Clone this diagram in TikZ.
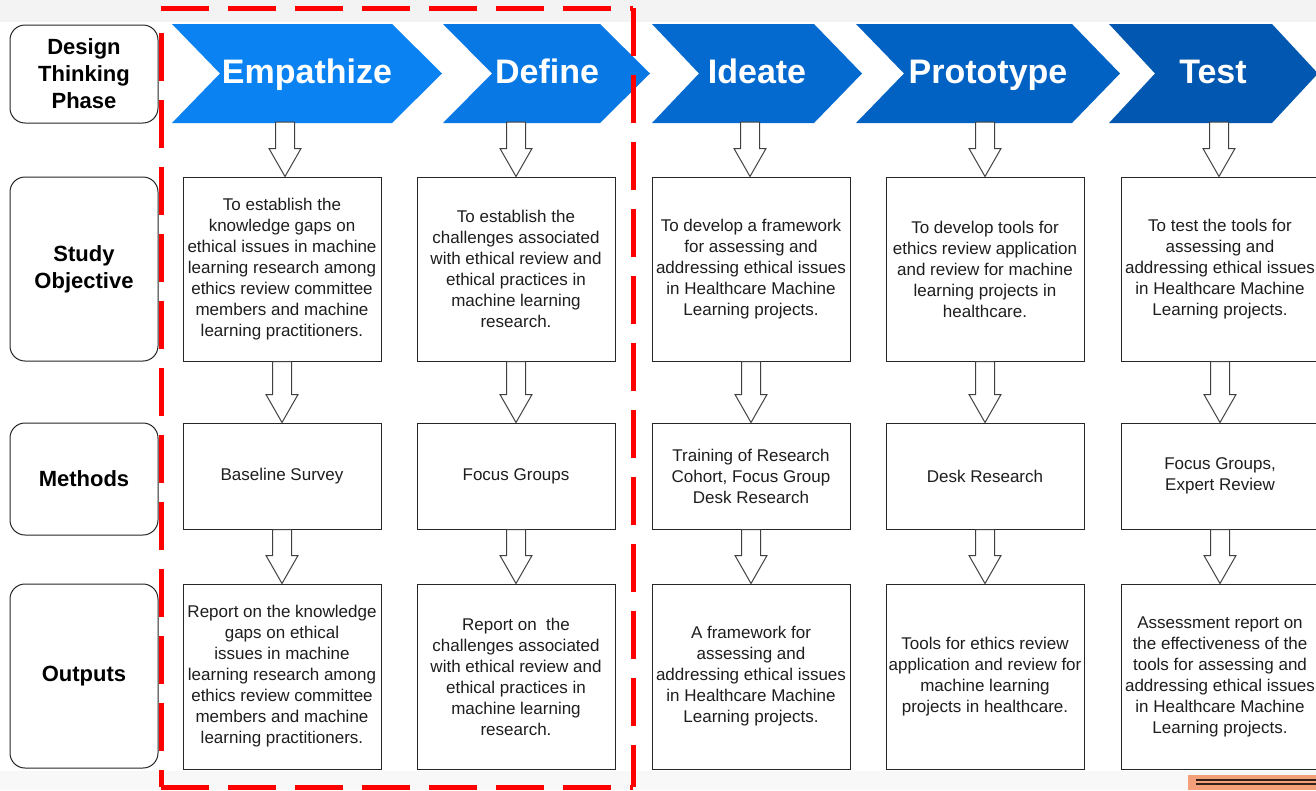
\documentclass[tikz,border=0pt]{standalone}
\usepackage{fontspec}
\setmainfont{Liberation Sans}
\usetikzlibrary{calc}
\definecolor{cEmp}{RGB}{10,130,242}
\definecolor{cDef}{RGB}{8,120,228}
\definecolor{cIde}{RGB}{4,106,208}
\definecolor{cPro}{RGB}{2,98,196}
\definecolor{cTes}{RGB}{2,88,176}
\definecolor{bgGrey}{RGB}{243,243,243}
\definecolor{bgLight}{RGB}{248,248,248}
\definecolor{orangeBar}{RGB}{243,160,122}
\definecolor{txtDark}{RGB}{30,30,30}
\tikzset{
  lbl/.style={draw=black!85, rounded corners=15pt, minimum width=148pt, line width=1pt, fill=white, align=center, font=\fontsize{22}{27}\selectfont\bfseries, inner sep=0pt},
  box/.style={draw=black!85, line width=1pt, fill=white, minimum width=198pt, align=center, font=\fontsize{17}{21}\selectfont, text=txtDark, inner sep=1pt},
  objbox/.style={box, minimum height=184pt},
  methbox/.style={box, minimum height=106pt},
  outbox/.style={box, minimum height=185pt},
  phase/.style={text=white, font=\fontsize{34}{40}\selectfont\bfseries, inner sep=0pt, anchor=base},
  blockarr/.style={draw=black!75, fill=white, line width=1pt, line join=miter},
  redframe/.style={draw=red, line width=5pt, dash pattern=on 48pt off 19pt}
}
\newcommand\mychev[5]{\fill[#5] (#1,24) -- (#3,24) -- (#4,73.5) -- (#3,123) -- (#1,123) -- (#2,73.5) -- cycle;}
\newcommand\barrow[2]{\path[blockarr] let \p1=(#1), \p2=(#2) in (\x1-9.5pt,\y1) -- (\x1+9.5pt,\y1) -- (\x1+9.5pt,\y2+28pt) -- (\x1+16pt,\y2+28pt) -- (\x1,\y2) -- (\x1-16pt,\y2+28pt) -- (\x1-9.5pt,\y2+28pt) -- cycle;}
\begin{document}
\begin{tikzpicture}[x=1pt,y=-1pt]
\useasboundingbox (0,0) rectangle (1316,790);
% background
\fill[bgGrey] (0,0) rectangle (1316,790);
\fill[bgLight] (0,771) rectangle (1316,790);
\fill[white] (0,22) rectangle (1316,771);
\fill[orangeBar] (1188,775) rectangle (1316,790);
\draw[black!80!orangeBar, line width=1.3pt] (1196,780) -- (1316,780);
\draw[black!80!orangeBar, line width=1.3pt] (1196,784) -- (1316,784);
% chevrons
\mychev{172}{220}{392}{442}{cEmp}
\mychev{443}{492}{600}{650}{cDef}
\mychev{652}{699}{814}{862}{cIde}
\mychev{856}{904}{1072}{1120}{cPro}
\mychev{1109}{1155}{1272}{1318}{cTes}
\node[phase] (ph1) at (307,83) {Empathize};
\node[phase] (ph2) at (547,83) {Define};
\node[phase] (ph3) at (757,83) {Ideate};
\node[phase] (ph4) at (988,83) {Prototype};
\node[phase] (ph5) at (1213,83) {Test};
% left labels
\node[lbl, minimum height=98pt] (l1) at (84,74) {Design\\Thinking\\Phase};
\node[lbl, minimum height=184pt] (l2) at (84,269) {Study\\Objective};
\node[lbl, minimum height=112pt] (l3) at (84,479) {Methods};
\node[lbl, minimum height=184pt] (l4) at (84,676) {Outputs};
% objectives
\node[objbox] (o1) at (282,269) {To establish the\\knowledge gaps on\\ethical issues in machine\\learning research among\\ethics review committee\\members and machine\\learning practitioners.};
\node[objbox] (o2) at (516,269) {To establish the\\challenges associated\\with ethical review and\\ethical practices in\\machine learning\\research.};
\node[objbox] (o3) at (751,269) {To develop a framework\\for assessing and\\addressing ethical issues\\in Healthcare Machine\\Learning projects.};
\node[objbox] (o4) at (985,269) {To develop tools for\\ethics review application\\and review for machine\\learning projects in\\healthcare.};
\node[objbox] (o5) at (1220,269) {To test the tools for\\assessing and\\addressing ethical issues\\in Healthcare Machine\\Learning projects.};
% methods
\node[methbox] (m1) at (282,476) {Baseline Survey};
\node[methbox] (m2) at (516,476) {Focus Groups};
\node[methbox] (m3) at (751,476) {Training of Research\\Cohort, Focus Group\\Desk Research};
\node[methbox] (m4) at (985,476) {Desk Research};
\node[methbox] (m5) at (1220,476) {Focus Groups,\\Expert Review};
% outputs
\node[outbox] (u1) at (282,676.5) {Report on the knowledge\\gaps on ethical\\issues in machine\\learning research among\\ethics review committee\\members and machine\\learning practitioners.};
\node[outbox] (u2) at (516,676.5) {Report on\ \ the\\challenges associated\\with ethical review and\\ethical practices in\\machine learning\\research.};
\node[outbox] (u3) at (751,676.5) {A framework for\\assessing and\\addressing ethical issues\\in Healthcare Machine\\Learning projects.};
\node[outbox] (u4) at (985,676.5) {Tools for ethics review\\application and review for\\machine learning\\projects in healthcare.};
\node[outbox] (u5) at (1220,676.5) {Assessment report on\\the effectiveness of the\\tools for assessing and\\addressing ethical issues\\in Healthcare Machine\\Learning projects.};
% chevron bottom coordinates
\coordinate (c1) at (285,122);
\coordinate (c2) at (516,122);
\coordinate (c3) at (750,122);
\coordinate (c4) at (985,122);
\coordinate (c5) at (1219,122);
% block arrows
\foreach \i in {1,...,5}{
  \barrow{c\i}{o\i.north}
  \barrow{o\i.south}{m\i.north}
  \barrow{m\i.south}{u\i.north}
}
% red dashed frame
\coordinate (fTL) at (161,8);
\coordinate (fTR) at (633,8);
\coordinate (fBL) at (161,787);
\coordinate (fBR) at (633,787);
\coordinate (fL0) at (161,33);
\draw[redframe] (fTL) -- (fTR);
\draw[redframe] (fTR) -- (fBR);
\draw[redframe] (fBL) -- (fBR);
\draw[redframe] (fL0) -- (fBL);
\end{tikzpicture}
\end{document}
